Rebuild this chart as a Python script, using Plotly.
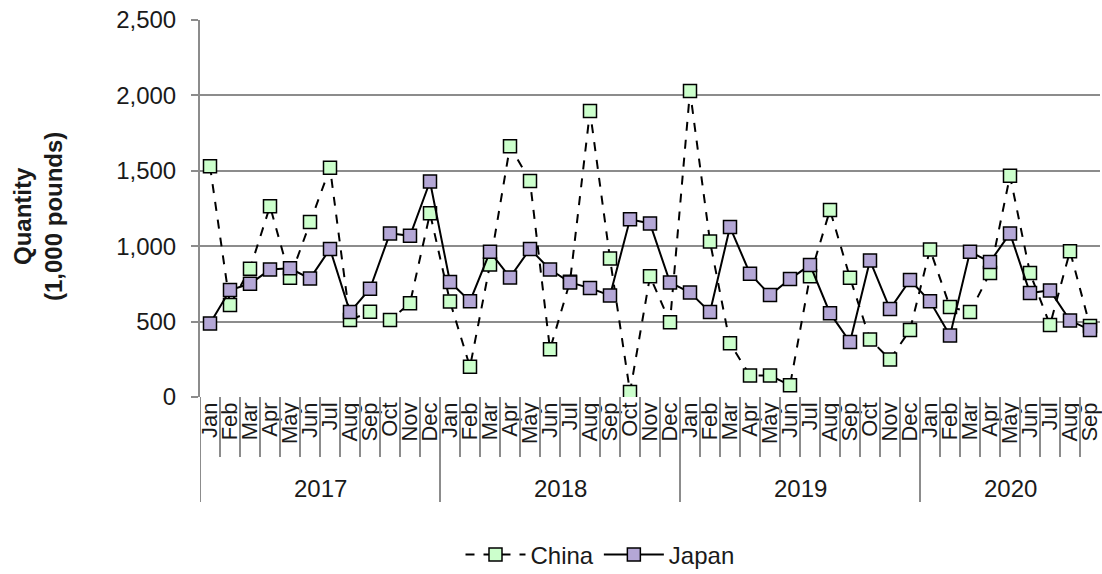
import plotly.graph_objects as go

# Monthly quantities, January 2017 through September 2020 (1,000 pounds)
years = ["2017", "2018", "2019", "2020"]
month_names = ["Jan", "Feb", "Mar", "Apr", "May", "Jun",
               "Jul", "Aug", "Sep", "Oct", "Nov", "Dec"]
months_in_year = [12, 12, 12, 9]

china = [
    1530, 610, 850, 1265, 790, 1160, 1520, 510, 565, 511, 622, 1218,   # 2017
    633, 200, 878, 1663, 1433, 316, 765, 1896, 918, 33, 800, 496,      # 2018
    2029, 1031, 356, 142, 142, 78, 800, 1240, 791, 382, 249, 445,      # 2019
    978, 596, 563, 822, 1467, 822, 478, 967, 470,                      # 2020
]
japan = [
    487, 709, 751, 845, 853, 785, 982, 563, 718, 1085, 1069, 1429,     # 2017
    763, 635, 963, 793, 982, 845, 760, 722, 673, 1178, 1151, 760,      # 2018
    693, 563, 1127, 818, 676, 782, 876, 556, 365, 905, 583, 776,       # 2019
    635, 407, 963, 896, 1085, 689, 707, 507, 445,                      # 2020
]

# Category keys (one per month) and their visible month labels
x_keys, x_text = [], []
for yr, n in zip(years, months_in_year):
    for m in month_names[:n]:
        x_keys.append(f"{m} {yr}")
        x_text.append(m)

FONT = "Liberation Sans, Arial, sans-serif"
GRID = "#8c8c8c"
TEXT = "#1a1a1a"

fig = go.Figure()
fig.add_trace(go.Scatter(
    x=x_keys, y=china, name="China", mode="lines+markers",
    line=dict(color="black", width=2, dash="dash"),
    marker=dict(symbol="square", size=13, color="#ccffcc",
                line=dict(color="black", width=1.5)),
))
fig.add_trace(go.Scatter(
    x=x_keys, y=japan, name="Japan", mode="lines+markers",
    line=dict(color="black", width=2),
    marker=dict(symbol="square", size=13, color="#b4a7d6",
                line=dict(color="black", width=1.5)),
))

plot_h = 574 - 20 - 177  # plot area height in px

shapes = []
# month separators below the axis
for i in range(len(x_keys)):
    shapes.append(dict(type="line", xref="x", yref="paper",
                       x0=i - 0.5, x1=i - 0.5, y0=0, y1=-60 / plot_h,
                       line=dict(color=GRID, width=2)))
# year separators reaching below the year labels
start = 0
annotations = []
for yr, n in zip(years, months_in_year):
    shapes.append(dict(type="line", xref="x", yref="paper",
                       x0=start - 0.5, x1=start - 0.5, y0=0, y1=-105 / plot_h,
                       line=dict(color=GRID, width=2)))
    annotations.append(dict(text=yr, xref="x", yref="paper",
                            x=start + (n - 1) / 2, y=-91 / plot_h,
                            showarrow=False, yanchor="middle",
                            font=dict(family=FONT, size=24, color=TEXT)))
    start += n

annotations.append(dict(
    text="<b>Quantity</b><br><b>(1,000 pounds)</b>",
    xref="paper", yref="paper", x=(38 - 200) / 900, y=(397 - 217) / plot_h,
    textangle=-90, showarrow=False, xanchor="center", yanchor="middle",
    font=dict(family=FONT, size=24, color=TEXT),
))

fig.update_layout(
    width=1102, height=574,
    margin=dict(l=200, r=2, t=20, b=177, autoexpand=False),
    paper_bgcolor="white", plot_bgcolor="white",
    font=dict(family=FONT, size=22, color=TEXT),
    showlegend=True,
    legend=dict(orientation="h", x=(600 - 200) / 900, xanchor="center",
                y=-158 / plot_h, yanchor="middle",
                font=dict(family=FONT, size=24, color=TEXT),
                itemwidth=60),
    shapes=shapes,
    annotations=annotations,
)
fig.update_xaxes(
    type="category", categoryorder="array", categoryarray=x_keys,
    tickvals=x_keys, ticktext=x_text, tickangle=-90,
    range=[-0.5, len(x_keys) - 0.5], automargin=False,
    showgrid=False, showline=False, zeroline=False, ticks="",
    tickfont=dict(family=FONT, size=22, color=TEXT),
)
fig.update_yaxes(
    range=[0, 2500], dtick=500, tickformat=",", automargin=False,
    showgrid=True, gridcolor=GRID, gridwidth=2,
    showline=True, linecolor=GRID, linewidth=2,
    zeroline=False, ticks="outside", ticklen=7, tickcolor=GRID, tickwidth=2,
    ticklabelstandoff=10,
    tickfont=dict(family=FONT, size=24, color=TEXT),
)

fig.write_html("out.html")
